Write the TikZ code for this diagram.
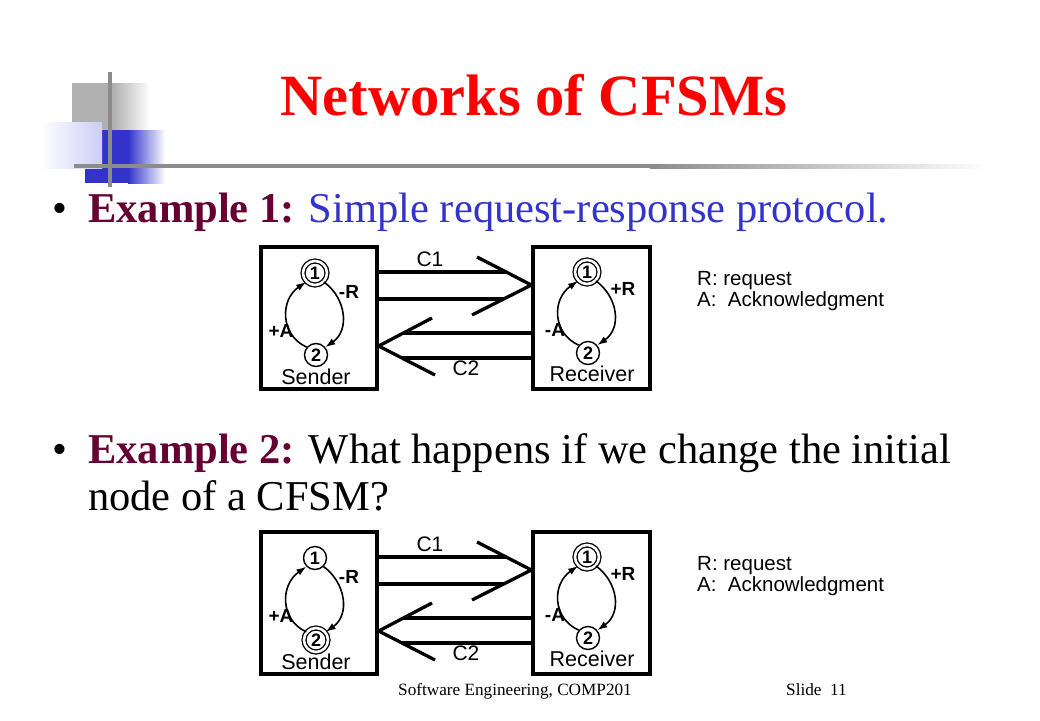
\documentclass[tikz,border=0pt]{standalone}
\usepackage{fontspec}
\setmainfont{Liberation Serif}
\newfontfamily\arialf{Liberation Sans}
\usetikzlibrary{arrows.meta}
\definecolor{titlered}{RGB}{255,0,0}
\definecolor{maroonc}{RGB}{102,0,51}
\definecolor{bblue}{RGB}{51,51,204}
\definecolor{logogray}{RGB}{176,176,176}
\definecolor{linegray}{RGB}{140,140,140}
\definecolor{lav}{RGB}{205,205,245}
\tikzset{
  txt/.style={inner sep=0pt, anchor=base west},
  boxc/.style={draw, line width=3.3pt, inner sep=0pt},
  sstate/.style={draw, circle, line width=1.4pt, minimum size=23pt, inner sep=0pt, font=\arialf\fontsize{18}{18}\selectfont\bfseries},
  dstate/.style={draw, circle, line width=1.3pt, double, double distance=2.6pt, minimum size=24pt, inner sep=0pt, font=\arialf\fontsize{18}{18}\selectfont\bfseries},
  trans/.style={line width=1.6pt, -{Latex[length=10pt,width=7pt]}},
  chan/.style={line width=3.3pt},
  lbl/.style={inner sep=0pt, font=\arialf\fontsize{19}{19}\selectfont\bfseries},
  clbl/.style={inner sep=0pt, font=\arialf\fontsize{21}{21}\selectfont},
  nlbl/.style={inner sep=0pt, anchor=base, font=\arialf\fontsize{21.5}{21.5}\selectfont},
  legend/.style={inner sep=0pt, anchor=base west, font=\arialf\fontsize{20.5}{20.5}\selectfont},
}
% #1 prefix, #2 y offset, #3 sender state 1 style, #4 sender state 2 style, #5 receiver state 1 style, #6 receiver state 2 style
\newcommand\cfsmnet[6]{%
\begin{scope}[shift={(0,#2)}]
  \node[boxc, minimum width=116pt, minimum height=142pt] (#1sb) at (319,318) {};
  \node[boxc, minimum width=117pt, minimum height=142pt] (#1rb) at (591.5,318) {};
  % sender states
  \node[#3] (#1s1) at (315,273) {1};
  \node[#4] (#1s2) at (316,355) {2};
  \draw[trans] (#1s1.-45) .. controls (346,298) and (350,330) .. (#1s2.40);
  \draw[trans] (#1s2.140) .. controls (280,335) and (280,300) .. (#1s1.-135);
  \node[lbl] (#1sr) at (349,292) {-R};
  \node[lbl] (#1sa) at (281,331) {+A};
  \node[nlbl] (#1sn) at (316,384.5) {Sender};
  % receiver states
  \node[#5] (#1r1) at (587,272) {1};
  \node[#6] (#1r2) at (588,353) {2};
  \draw[trans] (#1r1.-45) .. controls (618,297) and (622,328) .. (#1r2.40);
  \draw[trans] (#1r2.140) .. controls (552,333) and (552,299) .. (#1r1.-135);
  \node[lbl] (#1rr) at (623,289) {+R};
  \node[lbl] (#1ra) at (555,330) {-A};
  \node[nlbl] (#1rn) at (592,381) {Receiver};
  % channel C1
  \coordinate (#1c1tip) at (#1rb.west |- 0,285);
  \coordinate (#1c1a) at (477,257);
  \coordinate (#1c1b) at (472,315);
  \draw[chan] (#1sb.east |- 0,272) -- (506,272);
  \draw[chan] (#1sb.east |- 0,299) -- (504,299);
  \draw[chan, line join=miter] (#1c1a) -- (#1c1tip) -- (#1c1b);
  \node[clbl] (#1c1) at (430,259) {C1};
  % channel C2
  \coordinate (#1c2tip) at (#1sb.east |- 0,346);
  \coordinate (#1c2a) at (432,318);
  \coordinate (#1c2b) at (435,375);
  \draw[chan] (#1rb.west |- 0,333) -- (403,333);
  \draw[chan] (#1rb.west |- 0,358) -- (402,358);
  \draw[chan, line join=miter] (#1c2a) -- (#1c2tip) -- (#1c2b);
  \node[clbl] (#1c2) at (466,368) {C2};
  % legend
  \node[legend] (#1lr) at (697,285) {R: request};
  \node[legend] (#1la) at (697,306) {A:\ \ Acknowledgment};
\end{scope}}
\begin{document}
\begin{tikzpicture}[x=1pt,y=-1pt]
\fill[white] (0,0) rectangle (1040,720);
\useasboundingbox (0,0) rectangle (1040,720);
% logo
\fill[logogray] (72,83) rectangle (113,130);
\shade[left color=logogray, right color=white] (113,83) rectangle (150,130);
\fill[bblue] (85,130) rectangle (128,183);
\shade[left color=bblue, right color=white] (128,130) rectangle (165,183);
\shade[left color=white, right color=lav] (40,122) rectangle (102,168);
\fill[linegray] (108,72) rectangle (112,187);
\fill[linegray] (74,164) rectangle (650,168);
\shade[left color=linegray, right color=white] (650,164) rectangle (990,168);
% title
\node[inner sep=0pt, anchor=base, text=titlered, font=\fontsize{58.5}{58.5}\selectfont\bfseries] (title) at (534,115) {Networks of CFSMs};
% bullets
\node[txt, font=\fontsize{42.5}{42.5}\selectfont] (b1) at (52,222) {•};
\node[txt, font=\fontsize{42.5}{42.5}\selectfont] (t1) at (88,222) {\textcolor{maroonc}{\bfseries Example 1:} \textcolor{bblue}{Simple request-response protocol.}};
\node[txt, font=\fontsize{42.5}{42.5}\selectfont] (b2) at (52,463) {•};
\node[txt, font=\fontsize{42.5}{42.5}\selectfont] (t2) at (88,463) {\textcolor{maroonc}{\bfseries Example 2:} What happens if we change the initial};
\node[txt, font=\fontsize{42.5}{42.5}\selectfont] (t3) at (88,510) {node of a CFSM?};
% diagrams
\cfsmnet{a}{0}{dstate}{sstate}{dstate}{sstate}
\cfsmnet{b}{285}{sstate}{dstate}{dstate}{sstate}
% footer
\node[txt, font=\fontsize{17.2}{17.2}\selectfont] (f1) at (398,695) {Software Engineering, COMP201};
\node[txt, font=\fontsize{17.2}{17.2}\selectfont] (f2) at (786,695) {Slide\ \ 11};
\end{tikzpicture}
\end{document}
